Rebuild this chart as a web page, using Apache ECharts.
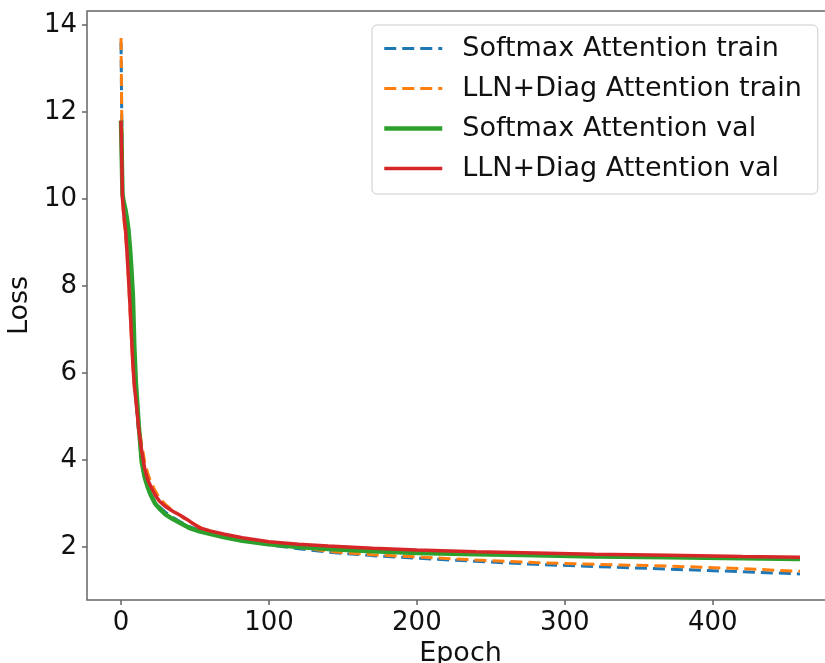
<!DOCTYPE html>
<html>
<head>
<meta charset="utf-8">
<script src="https://cdn.jsdelivr.net/npm/echarts@6/dist/echarts.min.js"></script>
<style>html,body{margin:0;padding:0;background:#fff;}#c{width:825px;height:663px;}</style>
</head>
<body>
<div id="c"></div>
<script>
const epochs = [0,1,2,3,4,5,6,7,8,9,10,12,14,16,18,20,23,26,30,35,40,46,53,60,70,82,100,120,140,170,200,240,280,320,370,420,459];
const softmaxTrain = [13.6,10.1,9.7,9.4,9.1,8.7,8.1,7.4,6.6,5.9,5.4,4.6,4.0,3.65,3.4,3.22,3.05,2.92,2.8,2.68,2.58,2.47,2.38,2.31,2.23,2.15,2.05,1.96,1.88,1.8,1.74,1.67,1.6,1.55,1.49,1.43,1.38];
const llnTrain = [13.7,10.0,9.5,9.2,8.8,8.2,7.5,6.8,6.2,5.7,5.4,4.8,4.35,3.95,3.7,3.5,3.3,3.12,2.98,2.83,2.72,2.58,2.46,2.37,2.27,2.18,2.07,1.99,1.9,1.82,1.77,1.7,1.64,1.6,1.56,1.5,1.44];
const softmaxVal = [11.8,10.1,9.9,9.75,9.55,9.3,8.9,8.4,7.8,6.6,5.8,4.8,3.95,3.6,3.38,3.2,3.0,2.88,2.75,2.64,2.55,2.44,2.36,2.3,2.22,2.14,2.06,2.0,1.95,1.9,1.86,1.83,1.81,1.78,1.76,1.74,1.72];
const llnVal = [11.8,10.0,9.6,9.3,8.8,8.2,7.6,6.9,6.2,5.7,5.4,4.7,4.2,3.8,3.55,3.4,3.2,3.05,2.93,2.82,2.73,2.6,2.44,2.37,2.29,2.21,2.12,2.06,2.02,1.97,1.93,1.89,1.86,1.83,1.81,1.78,1.76];
const seriesNames = ['Softmax Attention train','LLN+Diag Attention train','Softmax Attention val','LLN+Diag Attention val'];
const xTicks = [0,100,200,300,400];
const yTicks = [2,4,6,8,10,12,14];

const pairs = arr => epochs.map((e,i)=>[e,arr[i]]);
const FONT = 'DejaVu Sans';
const chart = echarts.init(document.getElementById('c'), null, {renderer:'canvas'});
const styles = [
  {color:'#1f77b4', width:3, type:[12,6]},
  {color:'#ff7f0e', width:3, type:[12,6]},
  {color:'#2ca02c', width:4.5, type:'solid'},
  {color:'#d62728', width:3.5, type:'solid'}
];
const mk = (i, data) => ({
  name: seriesNames[i], type:'line', data: pairs(data), symbol:'none', showSymbol:false,
  lineStyle:{color:styles[i].color, width:styles[i].width, type:styles[i].type, cap:'butt'},
  itemStyle:{color:styles[i].color}, animation:false
});
chart.setOption({
  animation:false,
  backgroundColor:'#fff',
  grid:{left:87, top:11, width:747, height:589, show:true, borderColor:'#666', borderWidth:1.5, containLabel:false, outerBoundsMode:'none'},
  xAxis:{type:'value', min:-23, max:482,
    name:'Epoch', nameLocation:'middle', nameGap:31,
    nameTextStyle:{fontFamily:FONT, fontSize:27, color:'#111'},
    axisLine:{show:false, onZero:false}, splitLine:{show:false},
    axisTick:{show:true, customValues:xTicks, length:5, inside:false, lineStyle:{color:'#666', width:1.5}},
    axisLabel:{customValues:xTicks, margin:10, fontFamily:FONT, fontSize:26, color:'#111'}},
  yAxis:{type:'value', min:0.78, max:14.32,
    name:'Loss', nameLocation:'middle', nameGap:47, nameRotate:90,
    nameTextStyle:{fontFamily:FONT, fontSize:27, color:'#111'},
    axisLine:{show:false, onZero:false}, splitLine:{show:false},
    axisTick:{show:true, customValues:yTicks, length:5, inside:false, lineStyle:{color:'#666', width:1.5}},
    axisLabel:{customValues:yTicks, margin:10, fontFamily:FONT, fontSize:26, color:'#111'}},
  legend:{left:372, top:25, orient:'vertical', itemWidth:58, itemHeight:14, itemGap:13,
    padding:[10,16,12,10], backgroundColor:'rgba(255,255,255,0.8)', borderColor:'#ccc', borderWidth:1, borderRadius:5,
    itemStyle:{opacity:0},
    textStyle:{fontFamily:FONT, fontSize:27, color:'#111', padding:[0,0,0,15]},
    data:seriesNames.map((n,i)=>({name:n, itemStyle:{opacity:0}, lineStyle:{width:styles[i].width, type:styles[i].type, color:styles[i].color}}))},
  series:[
    mk(0, softmaxTrain),
    mk(1, llnTrain),
    mk(2, softmaxVal),
    mk(3, llnVal)
  ]
});
</script>
</body>
</html>
